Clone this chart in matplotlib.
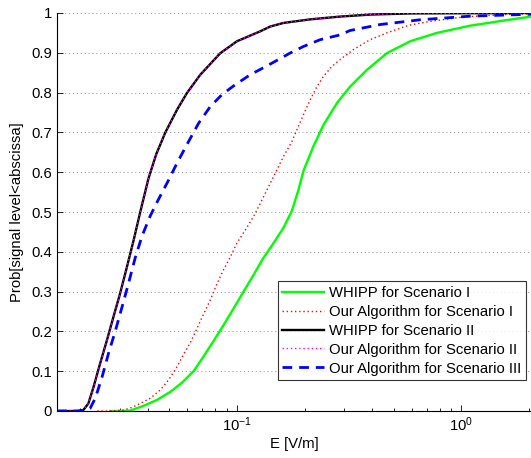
import matplotlib
matplotlib.use("Agg")
import matplotlib.pyplot as plt

plt.rcParams["font.family"] = ["Liberation Sans", "DejaVu Sans"]
plt.rcParams["mathtext.fontset"] = "custom"
plt.rcParams["mathtext.rm"] = "Liberation Sans"
plt.rcParams["mathtext.it"] = "Liberation Sans"

###################################################
# Data
###################################################

X_MIN = 0.0158
X_MAX = 2.04
FS = 10.7

# WHIPP for Scenario I
e_whipp_1 = [0.0273, 0.0292, 0.0335, 0.0384, 0.0441, 0.0505, 0.0569,
             0.0641, 0.0710, 0.0787, 0.0872, 0.0967, 0.107, 0.1186, 0.131,
             0.1456, 0.161, 0.1757, 0.188, 0.198, 0.219, 0.243, 0.279,
             0.319, 0.379, 0.465, 0.591, 0.777, 1.09, 1.54, 2.04]
p_whipp_1 = [0, 0, 0.001, 0.013, 0.028, 0.048, 0.071,
             0.100, 0.137, 0.176, 0.216, 0.258, 0.300, 0.342, 0.384,
             0.422, 0.460, 0.503, 0.556, 0.604, 0.665, 0.719, 0.774,
             0.815, 0.857, 0.899, 0.929, 0.950, 0.968, 0.981, 0.991]

# Our Algorithm for Scenario I
e_ours_1 = [0.0239, 0.0282, 0.0313, 0.0341, 0.0371, 0.0411, 0.0456, 0.0496,
            0.0541, 0.0578, 0.0620, 0.0652, 0.0699, 0.0761, 0.0815, 0.0872,
            0.0934, 0.1, 0.109, 0.1186, 0.1228, 0.1456, 0.161, 0.1757,
            0.185, 0.198, 0.212, 0.227, 0.243, 0.265, 0.288, 0.330, 0.392,
            0.465, 0.581, 0.726, 1.02, 1.54, 2.04]
p_ours_1 = [0, 0, 0.0025, 0.009, 0.019, 0.032, 0.053, 0.078,
            0.111, 0.142, 0.172, 0.198, 0.235, 0.279, 0.320, 0.355,
            0.387, 0.422, 0.455, 0.489, 0.505, 0.589, 0.639, 0.677,
            0.707, 0.745, 0.782, 0.815, 0.841, 0.866, 0.883, 0.908, 0.933,
            0.950, 0.969, 0.979, 0.990, 0.996, 0.998]

# WHIPP for Scenario II
e_whipp_2 = [0.0158, 0.0195, 0.0207, 0.0218, 0.0230, 0.0246, 0.0264, 0.0282,
             0.0302, 0.0324, 0.0347, 0.0371, 0.0404, 0.0437, 0.0480, 0.0541,
             0.0599, 0.0687, 0.0843, 0.1, 0.127, 0.1407, 0.161, 0.212, 0.288,
             0.392, 0.6, 2.04]
p_whipp_2 = [0, 0, 0.0025, 0.019, 0.061, 0.120, 0.179, 0.237,
             0.296, 0.363, 0.430, 0.500, 0.585, 0.645, 0.700, 0.757,
             0.799, 0.845, 0.899, 0.929, 0.954, 0.966, 0.975, 0.984, 0.991,
             0.996, 0.999, 1.0]

# Our Algorithm for Scenario II
e_ours_2 = [0.0158, 0.0195, 0.0207, 0.0218, 0.0230, 0.0246, 0.0264, 0.0282,
            0.0302, 0.0324, 0.0347, 0.0371, 0.0404, 0.0437, 0.0480, 0.0541,
            0.0599, 0.0687, 0.0843, 0.1, 0.127, 0.1407, 0.161, 0.212, 0.288,
            0.392, 0.6, 2.04]
p_ours_2 = [0, 0, 0.0025, 0.019, 0.061, 0.120, 0.179, 0.237,
            0.296, 0.363, 0.430, 0.500, 0.585, 0.645, 0.700, 0.757,
            0.799, 0.845, 0.899, 0.929, 0.954, 0.966, 0.975, 0.984, 0.991,
            0.996, 0.999, 1.0]

# Our Algorithm for Scenario III
e_ours_3 = [0.0158, 0.0205, 0.0214, 0.0222, 0.0234, 0.0251, 0.0268, 0.0287,
            0.0308, 0.0329, 0.0352, 0.0378, 0.0411, 0.0441, 0.0496, 0.0541,
            0.0609, 0.0675, 0.0761, 0.0858, 0.0967, 0.1146, 0.136, 0.161,
            0.172, 0.198, 0.235, 0.288, 0.319, 0.434, 0.655, 1.09, 1.82,
            2.04]
p_ours_3 = [0, 0, 0.002, 0.007, 0.032, 0.086, 0.145, 0.200,
            0.262, 0.321, 0.384, 0.440, 0.490, 0.525, 0.580, 0.623,
            0.677, 0.723, 0.765, 0.795, 0.817, 0.845, 0.867, 0.890,
            0.899, 0.916, 0.933, 0.945, 0.956, 0.971, 0.983, 0.992, 0.996,
            0.997]

labels = [
    "WHIPP for Scenario I",
    "Our Algorithm for Scenario I",
    "WHIPP for Scenario II",
    "Our Algorithm for Scenario II",
    "Our Algorithm for Scenario III",
]

y_ticks = [0, 0.1, 0.2, 0.3, 0.4, 0.5, 0.6, 0.7, 0.8, 0.9, 1]
y_tick_labels = ["0", "0.1", "0.2", "0.3", "0.4", "0.5",
                 "0.6", "0.7", "0.8", "0.9", "1"]
x_ticks = [0.1, 1.0]
x_tick_labels = [r"$10^{-1}$", r"$10^{0}$"]

###################################################
# Plot
###################################################

fig = plt.figure(figsize=(5.31, 4.58), dpi=100)
ax = fig.add_axes([57 / 531, 47 / 458, 1 - 57 / 531, 398 / 458])

ax.plot(e_whipp_1, p_whipp_1, color=(0, 1, 0), lw=1.7, label=labels[0])
ax.plot(e_ours_1, p_ours_1, color=(1, 0, 0), lw=1.0,
        linestyle=(0, (1, 2)), label=labels[1])
ax.plot(e_whipp_2, p_whipp_2, color="black", lw=1.7, label=labels[2])
ax.plot(e_ours_2, p_ours_2, color=(1, 0, 1), lw=1.0,
        linestyle=(0, (1, 2)), label=labels[3])
ax.plot(e_ours_3, p_ours_3, color=(0, 0, 1), lw=2.0,
        linestyle=(0, (3.5, 2.5)), label=labels[4])

ax.set_xscale("log")
ax.set_xlim(X_MIN, X_MAX)
ax.set_ylim(0, 1)

ax.set_xticks(x_ticks)
ax.set_xticklabels(x_tick_labels)
ax.set_yticks(y_ticks)
ax.set_yticklabels(y_tick_labels)

ax.tick_params(axis="both", which="both", direction="in",
               labelsize=FS, top=False, right=False)
ax.tick_params(axis="both", which="major", length=4, width=0.6)
ax.tick_params(axis="x", which="minor", length=2.5, width=0.6)

ax.grid(True, axis="y", which="major", linestyle=(0, (1, 3)),
        color="0.55", lw=0.7)

for side in ["top", "right"]:
    ax.spines[side].set_visible(False)
for side in ["left", "bottom"]:
    ax.spines[side].set_linewidth(0.8)

ax.set_xlabel("E [V/m]", fontsize=FS, labelpad=2)
ax.set_ylabel("Prob[signal level<abscissa]", fontsize=FS, labelpad=5)

leg = ax.legend(
    loc="lower right",
    bbox_to_anchor=(526 / 531, 78 / 458),
    bbox_transform=fig.transFigure,
    borderaxespad=0,
    fontsize=FS,
    frameon=True,
    fancybox=False,
    handlelength=2.8,
    handletextpad=0.35,
    labelspacing=0.33,
    borderpad=0.3,
)
leg.get_frame().set_edgecolor("black")
leg.get_frame().set_linewidth(0.8)

plt.savefig("out.png", dpi=100)
plt.close()
